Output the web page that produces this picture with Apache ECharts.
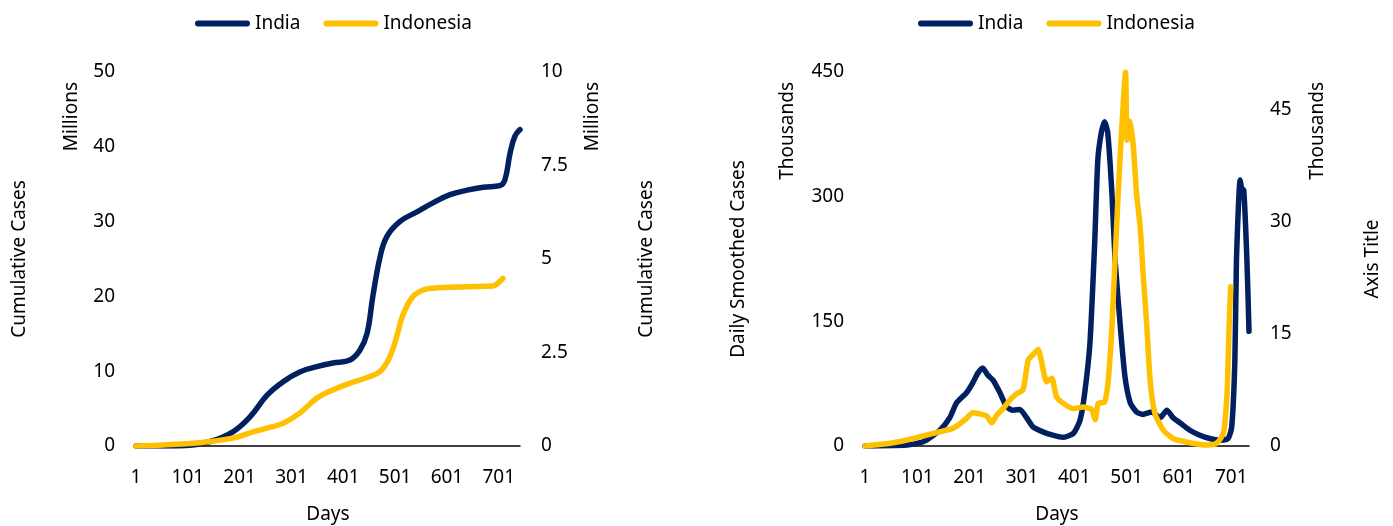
<!DOCTYPE html>
<html>
<head>
<meta charset="utf-8">
<script src="https://cdn.jsdelivr.net/npm/echarts@6/dist/echarts.min.js"></script>
<style>
  html, body { margin: 0; padding: 0; background: #fff; }
  #chart { width: 1393px; height: 526px; }
</style>
</head>
<body>
<div id="chart"></div>
<script>
// Cumulative cases (millions), sampled by day number
const cumIndiaDays = [1, 92, 144, 188, 221, 254, 285, 317, 350, 381, 414, 433, 447, 458, 472, 485, 510, 543, 574, 607, 640, 671, 703, 713, 723, 732, 742];
const cumIndiaVals = [0, 0.05, 0.6, 1.9, 3.9, 6.8, 8.6, 9.9, 10.6, 11.1, 11.5, 12.8, 15.1, 20, 25.3, 28, 30, 31.3, 32.5, 33.6, 34.2, 34.6, 34.8, 35.6, 39.2, 41.4, 42.3];

const cumIndonesiaDays = [1, 124, 188, 221, 254, 285, 317, 350, 381, 414, 447, 472, 491, 504, 516, 535, 555, 574, 640, 690, 699, 709];
const cumIndonesiaVals = [0, 0.09, 0.21, 0.35, 0.48, 0.61, 0.88, 1.28, 1.50, 1.68, 1.83, 1.99, 2.39, 2.92, 3.50, 3.99, 4.17, 4.22, 4.26, 4.28, 4.35, 4.48];

// Daily smoothed cases (thousands), sampled by day number
const dailyIndiaDays = [1, 81, 112, 144, 163, 176, 195, 207, 217, 226, 236, 246, 259, 272, 284, 297, 310, 322, 341, 360, 379, 399, 412, 421, 431, 440, 446, 453, 459, 465, 473, 479, 489, 498, 508, 520, 532, 549, 565, 578, 590, 603, 622, 641, 660, 680, 695, 702, 708, 711, 715, 718, 721, 725, 731, 735];
const dailyIndiaVals = [0, 1.2, 5, 19, 34, 52, 64, 76, 88, 94, 85, 79, 64, 47, 43, 44, 34, 23, 17, 13, 10.4, 15, 31, 64, 124, 244, 344, 378, 390, 377, 304, 224, 144, 83, 52, 41, 38, 41, 34, 43, 34, 28, 19, 13, 9, 7, 9, 23, 103, 224, 292, 320, 310, 308, 224, 138];

const dailyIndonesiaDays = [1, 49, 81, 112, 144, 169, 183, 195, 207, 221, 234, 243, 253, 265, 278, 291, 303, 313, 322, 332, 339, 348, 358, 367, 380, 399, 418, 434, 441, 447, 459, 466, 473, 479, 485, 492, 499, 502, 508, 514, 520, 527, 533, 539, 546, 555, 571, 590, 622, 654, 673, 686, 693, 697, 700];
const dailyIndonesiaVals = [0, 0.36, 0.8, 1.34, 1.9, 2.36, 3.0, 3.7, 4.45, 4.28, 4.0, 3.1, 4.14, 5.0, 6.15, 7.0, 7.5, 11.5, 12.2, 12.9, 11.06, 8.6, 9.05, 6.6, 5.7, 5.0, 5.2, 4.9, 3.5, 5.7, 5.9, 8.8, 15.95, 24.9, 33.8, 42.7, 50, 40.9, 43.4, 40, 33.8, 29.3, 22.6, 16.8, 8.8, 4.4, 2.14, 1.0, 0.44, 0.13, 0.36, 1.7, 7.0, 16, 21.3];

// Day-number categories for each panel
const cumDayCount = 742;
const dailyDayCount = 735;
const seriesNames = ['India', 'Indonesia'];

const NAVY = '#002060';
const GOLD = '#FFC000';
const FONT = 'Noto Sans';
const FS = 19;

function dayCategories(n) {
  const out = [];
  for (let d = 1; d <= n; d++) out.push(String(d));
  return out;
}
function pairs(days, vals) {
  return days.map((d, i) => [d - 1, vals[i]]);
}

const textStyle = { fontFamily: FONT, fontSize: FS, color: '#000' };
const legendIcon = 'path://M3,0H52A3,3 0 0 1 52,6H3A3,3 0 0 1 3,0Z';

function xAxisFor(gridIndex, n) {
  return {
    type: 'category',
    gridIndex,
    data: dayCategories(n),
    boundaryGap: false,
    axisLine: { lineStyle: { color: '#000', width: 1.5 } },
    axisTick: { show: false },
    axisLabel: { interval: 99, margin: 22, ...textStyle },
    splitLine: { show: false },
    name: 'Days',
    nameLocation: 'middle',
    nameGap: 59,
    nameTextStyle: textStyle
  };
}
function yAxisFor(gridIndex, position, max, interval, name, gap, extra) {
  return Object.assign({
    type: 'value',
    gridIndex,
    position,
    min: 0,
    max,
    interval,
    axisLine: { show: false },
    axisTick: { show: false },
    splitLine: { show: false },
    axisLabel: { margin: 21, ...textStyle },
    name,
    nameLocation: 'middle',
    nameGap: gap,
    nameTextStyle: textStyle
  }, extra || {});
}

function unitText(x, label) {
  return {
    type: 'text',
    x, y: 82,
    rotation: Math.PI / 2,
    style: { text: label, fontFamily: FONT, fontSize: FS, fill: '#000', align: 'right', verticalAlign: 'middle' }
  };
}

const lineStyle = (color) => ({ color, width: 5.5, cap: 'round', join: 'round' });

const option = {
  animation: false,
  backgroundColor: '#fff',
  textStyle,
  legend: [
    {
      left: 190, top: 9, itemWidth: 55, itemHeight: 6, itemGap: 23,
      icon: legendIcon, data: seriesNames, textStyle
    },
    {
      left: 913, top: 9, itemWidth: 55, itemHeight: 6, itemGap: 23,
      icon: legendIcon, data: seriesNames, textStyle
    }
  ],
  grid: [
    { left: 136, right: 873, top: 72, bottom: 80, containLabel: false, outerBoundsMode: 'none' },
    { left: 865, right: 144, top: 72, bottom: 80, containLabel: false, outerBoundsMode: 'none' }
  ],
  xAxis: [xAxisFor(0, cumDayCount), xAxisFor(1, dailyDayCount)],
  yAxis: [
    yAxisFor(0, 'left', 50, 10, 'Cumulative Cases', 107),
    yAxisFor(0, 'right', 10, 2.5, 'Cumulative Cases', 117),
    yAxisFor(1, 'left', 450, 150, 'Daily Smoothed Cases', 117),
    yAxisFor(1, 'right', 50, 15, 'Axis Title', 114, {
      axisLabel: { margin: 21, showMaxLabel: false, ...textStyle }
    })
  ],
  graphic: [
    unitText(72, 'Millions'),
    unitText(593, 'Millions'),
    unitText(788, 'Thousands'),
    unitText(1318, 'Thousands')
  ],
  series: [
    {
      name: 'India', type: 'line', xAxisIndex: 0, yAxisIndex: 0,
      data: pairs(cumIndiaDays, cumIndiaVals),
      showSymbol: false, symbol: 'none', smooth: 0.4,
      lineStyle: lineStyle(NAVY), itemStyle: { color: NAVY }
    },
    {
      name: 'Indonesia', type: 'line', xAxisIndex: 0, yAxisIndex: 1,
      data: pairs(cumIndonesiaDays, cumIndonesiaVals),
      showSymbol: false, symbol: 'none', smooth: 0.4,
      lineStyle: lineStyle(GOLD), itemStyle: { color: GOLD }
    },
    {
      name: 'India', type: 'line', xAxisIndex: 1, yAxisIndex: 2,
      data: pairs(dailyIndiaDays, dailyIndiaVals),
      showSymbol: false, symbol: 'none', smooth: 0.2,
      lineStyle: lineStyle(NAVY), itemStyle: { color: NAVY }
    },
    {
      name: 'Indonesia', type: 'line', xAxisIndex: 1, yAxisIndex: 3,
      data: pairs(dailyIndonesiaDays, dailyIndonesiaVals),
      showSymbol: false, symbol: 'none', smooth: 0.2,
      lineStyle: lineStyle(GOLD), itemStyle: { color: GOLD }
    }
  ]
};

const chart = echarts.init(document.getElementById('chart'), null, { renderer: 'canvas' });
chart.setOption(option);
</script>
</body>
</html>
